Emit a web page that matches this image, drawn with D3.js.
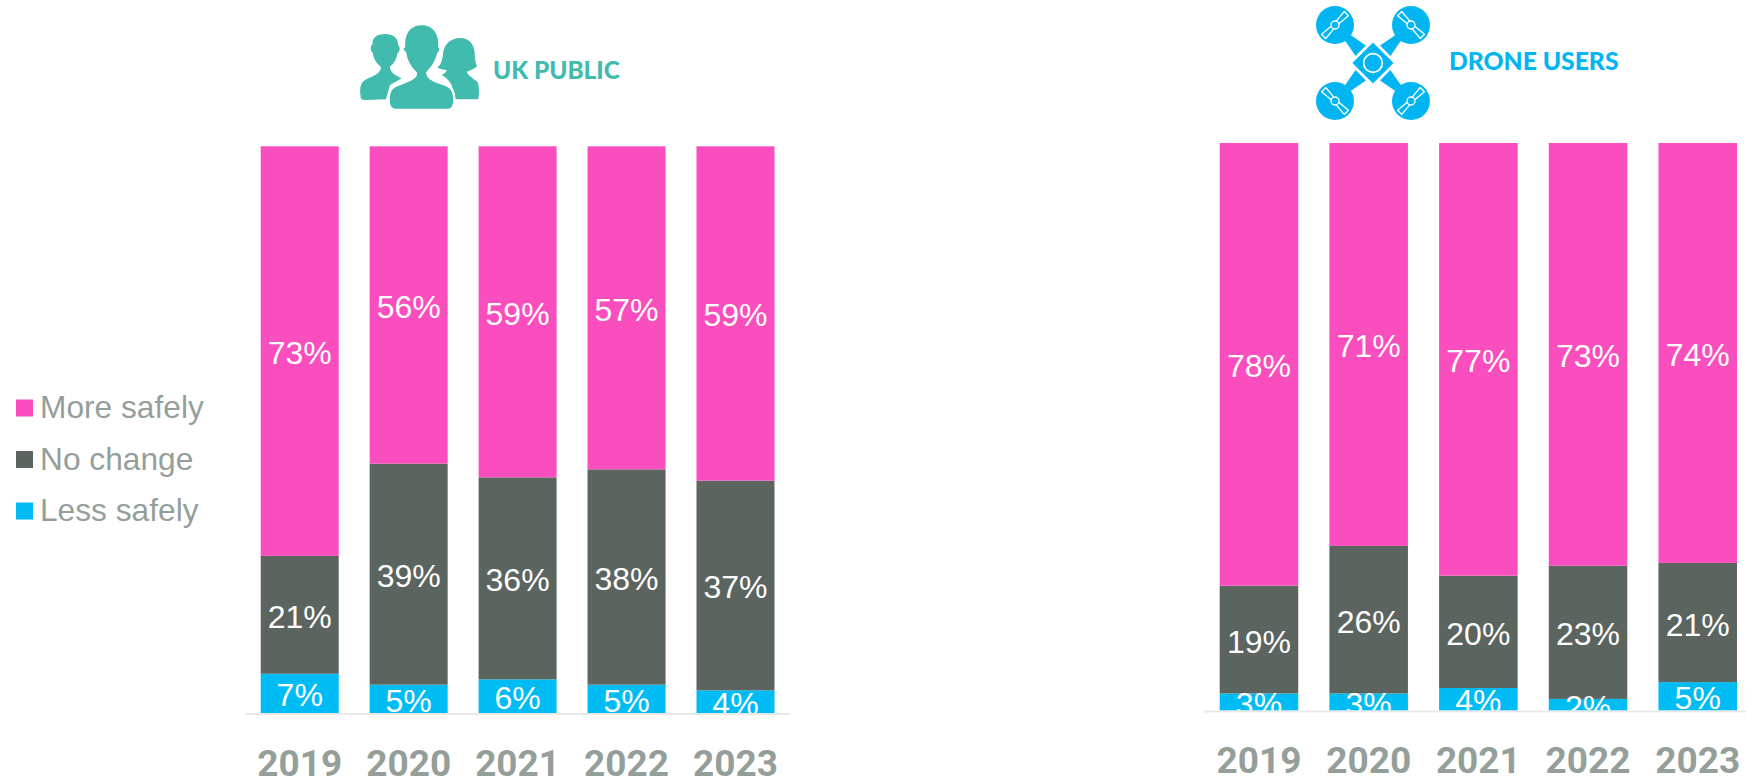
<!DOCTYPE html>
<html><head><meta charset="utf-8">
<script src="https://cdn.jsdelivr.net/npm/d3@7/dist/d3.min.js"></script>
<style>html,body{margin:0;padding:0;background:#fff;overflow:hidden}svg{display:block}</style>
</head><body><svg id="c" width="1746" height="779"></svg>
<script>
const years = ["2019","2020","2021","2022","2023"];
const seriesNames = ["Less safely","No change","More safely"];
const publicLess = [7,5,6,5,4];
const publicNoChange = [21,39,36,38,37];
const publicMore = [73,56,59,57,59];
const droneLess = [3,3,4,2,5];
const droneNoChange = [19,26,20,23,21];
const droneMore = [78,71,77,73,74];
const legendOrder = ["More safely","No change","Less safely"];
const colors = {"More safely":"#fa4dbe","No change":"#5c645f","Less safely":"#00bcf5"};
const GREY = "#959f9a", LABEL_FONT = "'Liberation Sans',Arial,sans-serif";

const svg = d3.select("#c");
function panel(id, less, noch, more, o){
  const rows = years.map((y,i)=>({year:y,"Less safely":less[i],"No change":noch[i],"More safely":more[i]}));
  const stack = d3.stack().keys(seriesNames).offset(d3.stackOffsetExpand)(rows);
  const x = d3.scaleBand().domain(years).range(o.x).paddingInner(o.pad).paddingOuter(0);
  const y = d3.scaleLinear().domain([0,1]).range([o.base,o.top]);
  const g = svg.append("g");
  svg.append("clipPath").attr("id",id).append("rect")
    .attr("x",0).attr("y",0).attr("width",1746).attr("height",o.base);
  stack.forEach(s=>{
    g.append("g").selectAll("rect").data(s).join("rect")
      .attr("x",d=>x(d.data.year)).attr("width",x.bandwidth())
      .attr("y",d=>y(d[1])).attr("height",d=>y(d[0])-y(d[1]))
      .attr("fill",colors[s.key]);
  });
  g.append("line").attr("x1",o.axis[0]).attr("x2",o.axis[1])
    .attr("y1",o.base+1).attr("y2",o.base+1).attr("stroke","#e9e9e9").attr("stroke-width",2);
  const lab = g.append("g").attr("clip-path",`url(#${id})`);
  stack.forEach(s=>{
    lab.append("g").selectAll("text").data(s).join("text")
      .attr("x",d=>x(d.data.year)+x.bandwidth()/2)
      .attr("y",d=>(y(d[0])+y(d[1]))/2+13)
      .attr("text-anchor","middle").attr("fill","#fff")
      .attr("font-family",LABEL_FONT).attr("font-size",32)
      .text(d=>d.data[s.key]+"%");
  });
  const ax = d3.axisBottom(x).tickSize(0).tickPadding(0);
  const axg = g.append("g").attr("transform",`translate(0,${o.yearY})`).call(ax);
  axg.select(".domain").remove();
  axg.selectAll("text").attr("y",0).attr("dy",0)
    .attr("font-family","Roboto,sans-serif").attr("font-weight",700)
    .attr("font-size",37).attr("fill",GREY);
}
panel("clipL",publicLess,publicNoChange,publicMore,{x:[260.7,774.5],pad:0.284,top:146.3,base:713,axis:[245,790],yearY:776});
panel("clipR",droneLess,droneNoChange,droneMore,{x:[1219.7,1737],pad:0.284,top:143,base:710.5,axis:[1204,1746],yearY:773});

// legend
const leg = svg.append("g");
legendOrder.forEach((n,i)=>{
  const yy = 408 + i*51.5;
  leg.append("rect").attr("x",16).attr("y",yy-8.5).attr("width",17).attr("height",17).attr("fill",colors[n]);
  leg.append("text").attr("x",40).attr("y",yy+10).attr("font-family",LABEL_FONT)
    .attr("font-size",31.7).attr("fill",GREY).text(n);
});

// headers
const TEAL="#41bbae", CYAN="#00b5f1";
svg.append("text").attr("x",493).attr("y",79).attr("font-family","Lato,sans-serif").attr("font-weight",900)
  .attr("font-size",24.4).attr("fill",TEAL).text("UK PUBLIC");
svg.append("text").attr("x",1449).attr("y",70).attr("font-family","Lato,sans-serif").attr("font-weight",900)
  .attr("font-size",24.7).attr("fill",CYAN).text("DRONE USERS");

// people icon (decorative)
const p = svg.append("g").attr("transform","translate(340,10) scale(0.3333)");
p.append("path").attr("fill",TEAL).attr("d","M62,262 C58,228 62,214 85,205 C110,194 124,186 122,170 C108,158 100,145 98,128 C90,122 90,108 98,102 C96,84 110,72 135,72 C160,72 176,86 174,104 C182,110 180,125 172,130 C170,148 162,160 150,170 C150,186 165,196 185,205 L150,225 L138,268 L75,270 C66,270 62,268 62,262Z");
p.append("path").attr("fill",TEAL).attr("d","M292,172 C304,165 308,145 310,125 C314,100 335,84 360,84 C385,84 402,100 404,128 C405,145 405,160 412,168 C400,178 390,182 380,185 C385,198 400,205 412,215 C418,225 418,255 415,268 L345,268 L335,225 C325,208 315,200 305,195 C315,190 320,185 320,180 C310,180 300,178 292,172Z");
p.append("path").attr("fill",TEAL).attr("stroke","#fff").attr("stroke-width",7).attr("d","M146,270 C146,245 152,232 175,224 C205,212 228,205 228,190 C210,172 198,150 195,128 C186,122 186,112 192,110 C190,70 208,42 245,42 C282,42 300,70 298,110 C304,114 302,125 295,130 C290,152 278,172 262,188 C262,205 285,214 315,224 C338,232 343,248 343,272 C343,290 335,300 320,300 L168,300 C152,300 146,290 146,270Z");

// drone icon (decorative)
const dr = svg.append("g").attr("transform","translate(1300,0) scale(0.3333)");
const hubs=[[105,75,1],[333,75,-1],[105,303,-1],[333,303,1]];
hubs.forEach(([cx,cy])=>{
  dr.append("circle").attr("cx",cx).attr("cy",cy).attr("r",57).attr("fill",CYAN);
});
const cx=219, cy=189;
hubs.forEach(([hx,hy])=>{
  const dx=hx-cx, dy=hy-cy, L=Math.hypot(dx,dy), ux=dx/L, uy=dy/L, nx=-uy, ny=ux, bx=cx+ux*52, by=cy+uy*52;
  dr.append("path").attr("fill",CYAN)
    .attr("d",`M${bx+nx*22},${by+ny*22} L${hx-ux*6+nx*3},${hy-uy*6+ny*3} L${hx-ux*6-nx*3},${hy-uy*6-ny*3} L${bx-nx*22},${by-ny*22}Z`);
});
dr.append("path").attr("fill",CYAN).attr("stroke","#fff").attr("stroke-width",5).attr("d",`M${cx},${cy-65} L${cx+65},${cy} L${cx},${cy+65} L${cx-65},${cy}Z`);
dr.append("circle").attr("cx",cx).attr("cy",cy).attr("r",28).attr("fill","none").attr("stroke","#fff").attr("stroke-width",5);
hubs.forEach(([hx,hy,s])=>{
  const h=dr.append("g").attr("transform",`translate(${hx},${hy}) rotate(${s>0?0:90})`);
  [[34,-34],[-34,34]].forEach(([ax,ay])=>{
    const a=Math.atan2(ay,ax), bx=Math.cos(a+Math.PI/2)*9, by=Math.sin(a+Math.PI/2)*9;
    h.append("path").attr("fill",CYAN).attr("stroke","#fff").attr("stroke-width",4).attr("stroke-linejoin","round")
      .attr("d",`M${bx*0.5},${by*0.5} L${ax+bx},${ay+by} L${ax-bx},${ay-by} L${-bx*0.5},${-by*0.5}Z`);
  });
  h.append("circle").attr("r",12).attr("fill",CYAN).attr("stroke","#fff").attr("stroke-width",4);
});
</script></body></html>
